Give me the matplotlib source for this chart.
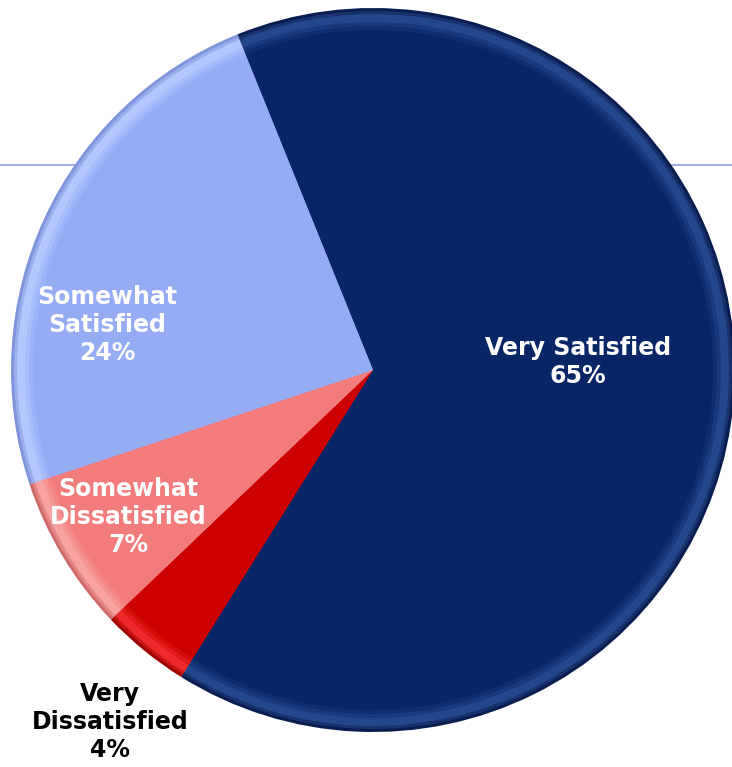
import matplotlib
matplotlib.use("Agg")
import matplotlib.pyplot as plt
from matplotlib.colors import to_rgb

categories = ["Very Satisfied", "Very Dissatisfied", "Somewhat Dissatisfied", "Somewhat Satisfied"]
values = [65, 4, 7, 24]
label_texts = ["Very Satisfied\n65%", "Very\nDissatisfied\n4%", "Somewhat\nDissatisfied\n7%", "Somewhat\nSatisfied\n24%"]

base_colors = ["#082666", "#cc0000", "#f27c7c", "#95acf4"]
rim_colors = ["#24468a", "#ee2a2a", "#f9a2a2", "#b4c8ff"]
edge_colors = ["#0a1d50", "#a00000", "#d06a6a", "#8094dc"]

W, H = 732, 767
fig = plt.figure(figsize=(W / 100, H / 100), dpi=100)
ax = fig.add_axes([0, 0, 1, 1])

# background horizontal line
ax.plot([0, W], [H - 165, H - 165], color="#8c9fe0", lw=1.2, zorder=0)

cx, cy, R = 373, H - 370, 362
start = 112


def mix(c1, c2, t):
    a, b = to_rgb(c1), to_rgb(c2)
    return tuple(a[i] * (1 - t) + b[i] * t for i in range(3))


# soft bevel: outer dark edge -> light band -> base
rings = [(0, 0.0, "edge"), (3, 0.5, "er"), (6, 1.0, "rim"), (10, 1.0, "rim"),
         (14, 0.6, "rb"), (18, 0.3, "rb2"), (22, 0.0, "base")]
for dr, t, kind in rings:
    if kind == "edge":
        cols = edge_colors
    elif kind == "er":
        cols = [mix(e, r, 0.5) for e, r in zip(edge_colors, rim_colors)]
    elif kind == "rim":
        cols = rim_colors
    elif kind == "rb":
        cols = [mix(b, r, 0.6) for b, r in zip(base_colors, rim_colors)]
    elif kind == "rb2":
        cols = [mix(b, r, 0.25) for b, r in zip(base_colors, rim_colors)]
    else:
        cols = base_colors
    ax.pie(values, colors=cols, startangle=start, counterclock=False,
           center=(cx, cy), radius=R - dr, frame=True,
           wedgeprops=dict(linewidth=0))

ax.set_xlim(0, W)
ax.set_ylim(0, H)
ax.set_aspect("equal")
ax.axis("off")

label_pos = [(578, H - 362), (110, H - 722), (128, H - 517), (107, H - 325)]
label_cols = ["white", "black", "white", "white"]
for txt, (x, y), c in zip(label_texts, label_pos, label_cols):
    ax.text(x, y, txt, ha="center", va="center", color=c, fontsize=17,
            fontweight="bold", family="DejaVu Sans", linespacing=1.2, zorder=5)

fig.savefig("out.png", dpi=100)
